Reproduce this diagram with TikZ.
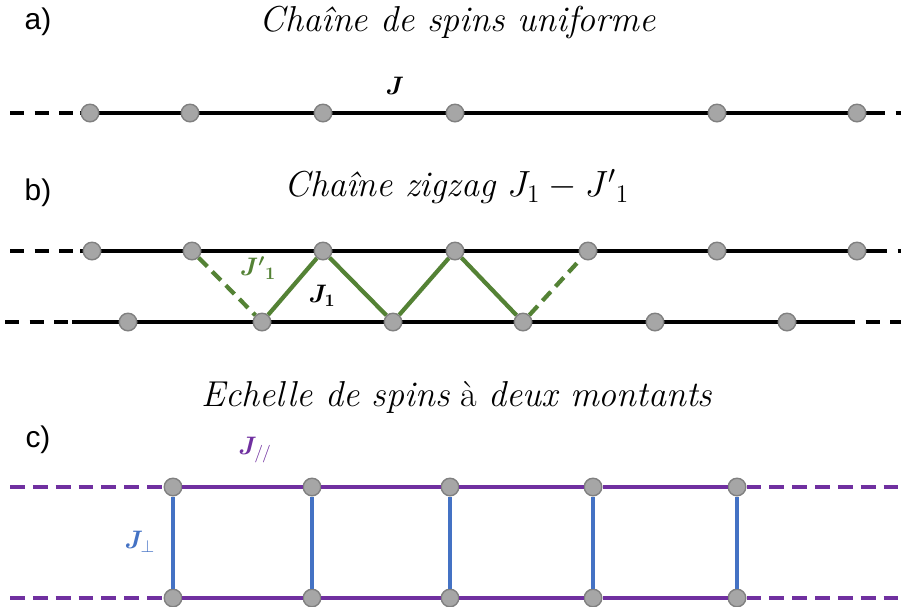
\documentclass[tikz,border=0pt]{standalone}
\usepackage{fontspec}
\usepackage{amsmath,bm}
\newfontfamily\labfont{Liberation Sans}
\definecolor{zzgreen}{RGB}{84,130,53}
\definecolor{legpurple}{RGB}{112,48,160}
\definecolor{rungblue}{RGB}{68,114,196}
\definecolor{spinfill}{RGB}{166,166,166}
\definecolor{spindraw}{RGB}{128,128,128}
\begin{document}
\begin{tikzpicture}[x=0.02cm, y=-0.02cm]
  \tikzstyle{spin}=[circle,draw=spindraw,fill=spinfill,line width=0.8pt,minimum size=10pt,inner sep=0pt]
  \tikzstyle{bond}=[line width=2pt,black]
  \tikzstyle{bondend}=[bond,dash pattern=on 8pt off 6pt]
  \tikzstyle{zig}=[line width=2.4pt,zzgreen]
  \tikzstyle{leg}=[line width=2pt,legpurple]
  \tikzstyle{legend}=[leg,dash pattern=on 8.5pt off 4.5pt]
  \tikzstyle{rung}=[line width=2.2pt,rungblue]
  \tikzstyle{title}=[font=\fontsize{20.5}{24}\selectfont]
  \tikzstyle{panel}=[font=\labfont\fontsize{17}{20}\selectfont]
  \tikzstyle{coupling}=[font=\fontsize{14.5}{17}\selectfont]
  \useasboundingbox (0,0) rectangle (901,606);
  % a) uniform chain
  \node[panel] (pa) at (38,22) {a)};
  \node[title] (ta) at (458,22) {\textit{Chaîne de spins uniforme}};
  \coordinate (al) at (10,113); \coordinate (ar) at (885,113); \coordinate (ax) at (930,113);
  \draw[bondend] (al) -- (80,113);
  \draw[bond] (80,113) -- (ar);
  \draw[bondend,dash phase=8pt] (ar) -- (ax);
  \node[spin] (a1) at (90,113) {}; \node[spin] (a2) at (190,113) {};
  \node[spin] (a3) at (323,113) {}; \node[spin] (a4) at (455,113) {};
  \node[spin] (a5) at (717,113) {}; \node[spin] (a6) at (857,113) {};
  \node[coupling] (ja) at (395,86) {$\bm{J}$};
  % b) zigzag chain
  \node[panel] (pb) at (38,193) {b)};
  \node[title] (tb) at (457,187) {\textit{Chaîne zigzag} $J_1-{J'}_1$};
  \coordinate (bl) at (10,251); \coordinate (bm) at (80,251);
  \coordinate (br) at (887,251); \coordinate (bx) at (930,251);
  \coordinate (cl) at (5,322); \coordinate (cm) at (72,322);
  \coordinate (cr) at (855,322); \coordinate (cx) at (930,322);
  \draw[bondend] (bl) -- (bm); \draw[bond] (bm) -- (br);
  \draw[bondend,dash phase=8pt] (br) -- (bx);
  \draw[bondend] (cl) -- (cm); \draw[bond] (cm) -- (cr);
  \draw[bondend,dash phase=8pt] (cr) -- (cx);
  \node[spin] (b1) at (92,251) {}; \node[spin] (b2) at (192,251) {};
  \node[spin] (b3) at (323,251) {}; \node[spin] (b4) at (455,251) {};
  \node[spin] (b5) at (588,251) {}; \node[spin] (b6) at (717,251) {};
  \node[spin] (b7) at (857,251) {};
  \node[spin] (c1) at (128,322) {}; \node[spin] (c2) at (262,322) {};
  \node[spin] (c3) at (393,322) {}; \node[spin] (c4) at (523,322) {};
  \node[spin] (c5) at (655,322) {}; \node[spin] (c6) at (787,322) {};
  \draw[zig,dash pattern=on 7pt off 4pt] (b2) -- (c2);
  \draw[zig] (c2) -- (b3) -- (c3) -- (b4) -- (c4);
  \draw[zig,dash pattern=on 7pt off 4pt] (c4) -- (b5);
  \node[coupling,zzgreen] (jb) at (258,268) {$\bm{{J'}_1}$};
  \node[coupling] (jc) at (322,296) {$\bm{J_1}$};
  % c) two-leg ladder
  \node[panel] (pc) at (38,440) {c)};
  \node[title] (tc) at (457,397) {\textit{Echelle de spins} à \textit{deux montants}};
  \coordinate (ul) at (10,487); \coordinate (ur) at (930,487);
  \coordinate (dl) at (10,598); \coordinate (dr) at (930,598);
  \node[spin] (u1) at (173,487) {}; \node[spin] (u2) at (312,487) {};
  \node[spin] (u3) at (450,487) {}; \node[spin] (u4) at (593,487) {};
  \node[spin] (u5) at (737,487) {};
  \node[spin] (d1) at (173,598) {}; \node[spin] (d2) at (312,598) {};
  \node[spin] (d3) at (450,598) {}; \node[spin] (d4) at (593,598) {};
  \node[spin] (d5) at (737,598) {};
  \draw[legend] (ul) -- (u1); \draw[legend] (u5) -- (ur);
  \draw[legend] (dl) -- (d1); \draw[legend] (d5) -- (dr);
  \draw[leg] (u1) -- (u2) -- (u3) -- (u4) -- (u5);
  \draw[leg] (d1) -- (d2) -- (d3) -- (d4) -- (d5);
  \draw[rung] (u1) -- (d1); \draw[rung] (u2) -- (d2); \draw[rung] (u3) -- (d3);
  \draw[rung] (u4) -- (d4); \draw[rung] (u5) -- (d5);
  \node[coupling,legpurple] (jl) at (255,450) {$\bm{J}_{/\mkern-1mu/}$};
  \node[coupling,rungblue] (jp) at (140,542) {$\bm{J}_{\perp}$};
\end{tikzpicture}
\end{document}
